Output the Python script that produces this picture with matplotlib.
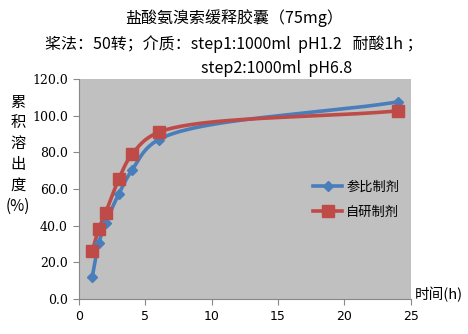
import numpy as np
import matplotlib.pyplot as plt

plt.rcParams['font.family'] = ['Noto Sans CJK SC', 'DejaVu Sans']

# sampling times (h) and cumulative release (%)
hours = [1, 1.5, 2, 3, 4, 6, 24]
reference = [12.0, 30.6, 41.2, 57.3, 70.4, 87.0, 107.6]
test = [26.1, 38.3, 47.0, 65.5, 79.0, 91.0, 102.7]

y_ticks = [0, 20, 40, 60, 80, 100, 120]
x_ticks = [0, 5, 10, 15, 20, 25]


# centripetal Catmull-Rom through the points; sx, sy put x and y on a
# similar screen scale so the curve bends the way it looks on the chart
def smooth_curve(x, y, sx=13.3, sy=1.83, steps=40):
    pts = np.column_stack([np.asarray(x, float) * sx, np.asarray(y, float) * sy])
    pts = np.vstack([2 * pts[0] - pts[1], pts, 2 * pts[-1] - pts[-2]])
    out = []
    for i in range(1, len(pts) - 2):
        p0, p1, p2, p3 = pts[i - 1:i + 3]
        t0 = 0.0
        t1 = t0 + np.linalg.norm(p1 - p0) ** 0.5
        t2 = t1 + np.linalg.norm(p2 - p1) ** 0.5
        t3 = t2 + np.linalg.norm(p3 - p2) ** 0.5
        t = np.linspace(t1, t2, steps)[:, None]
        a1 = (t1 - t) / (t1 - t0) * p0 + (t - t0) / (t1 - t0) * p1
        a2 = (t2 - t) / (t2 - t1) * p1 + (t - t1) / (t2 - t1) * p2
        a3 = (t3 - t) / (t3 - t2) * p2 + (t - t2) / (t3 - t2) * p3
        b1 = (t2 - t) / (t2 - t0) * a1 + (t - t0) / (t2 - t0) * a2
        b2 = (t3 - t) / (t3 - t1) * a2 + (t - t1) / (t3 - t1) * a3
        out.append((t2 - t) / (t2 - t1) * b1 + (t - t1) / (t2 - t1) * b2)
    out = np.vstack(out)
    return out[:, 0] / sx, out[:, 1] / sy


fig = plt.figure(figsize=(4.68, 3.34), dpi=100)
ax = fig.add_axes([0.1688, 0.1057, 0.709, 0.657])
ax.set_facecolor('#c0c0c0')

blue = '#4a7ebb'
red = '#be4b48'

cx, cy = smooth_curve(hours, reference)
ax.plot(cx, cy, color=blue, lw=2.6, solid_capstyle='round', zorder=3)
ax.plot(hours, reference, ls='none', marker='D', ms=5.5, color=blue, zorder=4)

cx, cy = smooth_curve(hours, test)
ax.plot(cx, cy, color=red, lw=2.6, solid_capstyle='round', zorder=3)
ax.plot(hours, test, ls='none', marker='s', ms=8, color=red, zorder=4)

# legend handles
ax.plot([], [], color=blue, lw=2.6, marker='D', ms=5.5, label='参比制剂')
ax.plot([], [], color=red, lw=2.6, marker='s', ms=8, label='自研制剂')
ax.legend(loc='upper left', bbox_to_anchor=(0.67, 0.59), frameon=False,
          fontsize=9.5, handlelength=2.2, handletextpad=0.3, labelspacing=0.9)

ax.set_xlim(0, 25)
ax.set_ylim(0, 120)
ax.set_xticks(x_ticks)
ax.set_xticklabels([str(v) for v in x_ticks], fontsize=9, family='DejaVu Sans')
ax.set_yticks(y_ticks)
ax.set_yticklabels([f'{v:.1f}' for v in y_ticks], fontsize=9, family='DejaVu Serif')
for side in ('top', 'right'):
    ax.spines[side].set_visible(False)
for side in ('left', 'bottom'):
    ax.spines[side].set_color('#888888')
ax.tick_params(direction='out', length=4, color='#888888', pad=4)

fig.text(0.038, 0.72, '累\n积\n溶\n出\n度\n(%)', fontsize=11, ha='center', va='top',
         linespacing=1.3)
fig.text(0.887, 0.095, '时间(h)', fontsize=10.5, ha='left', va='bottom')

fig.text(0.5, 0.945, '盐酸氨溴索缓释胶囊（75mg）', fontsize=11.5, ha='center', va='center')
fig.text(0.5, 0.868, '桨法：50转；介质：step1:1000ml  pH1.2   耐酸1h ；', fontsize=11.5,
         ha='center', va='center')
fig.text(0.43, 0.795, 'step2:1000ml  pH6.8', fontsize=11.5, ha='left', va='center')

fig.savefig('out.png', dpi=100)
